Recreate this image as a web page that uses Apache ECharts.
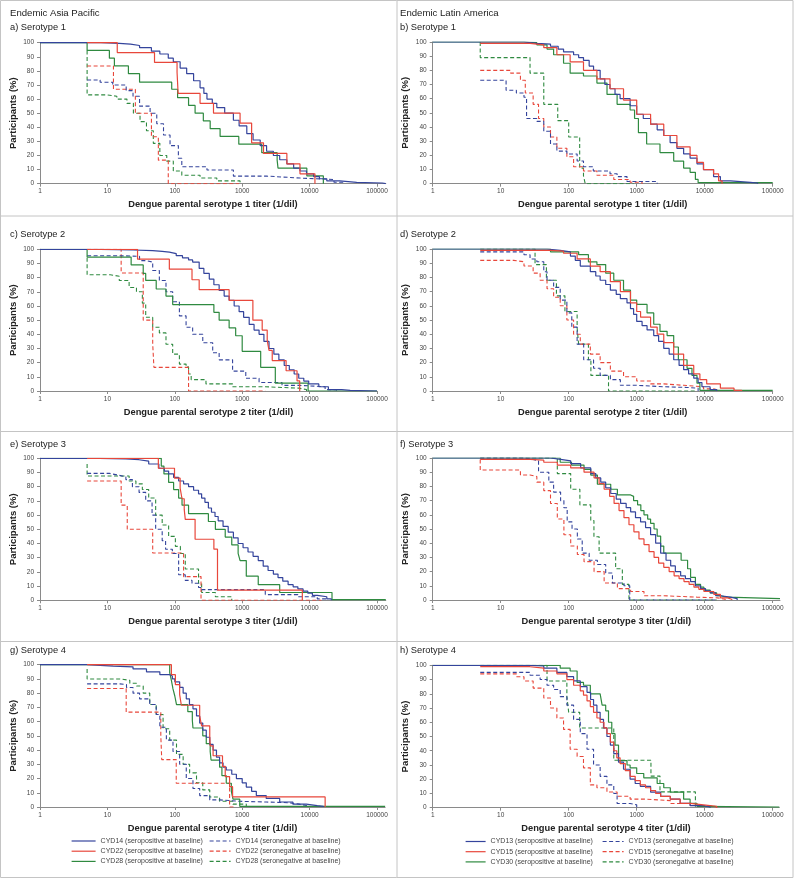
<!DOCTYPE html>
<html><head><meta charset="utf-8">
<script src="https://cdn.jsdelivr.net/npm/echarts@6/dist/echarts.min.js"></script>
<style>html,body{margin:0;padding:0;background:#fff}#c{width:794px;height:879px}</style>
</head><body><div id="c"></div>
<script>
// ---------- tick labels ----------
const X_TICKS = [1, 10, 100, 1000, 10000, 100000];
const Y_TICKS = [0, 10, 20, 30, 40, 50, 60, 70, 80, 90, 100];
const NAMES_AP = ['CYD14 (seropositive at baseline)', 'CYD22 (seropositive at baseline)', 'CYD28 (seropositive at baseline)',
                  'CYD14 (seronegative at baseline)', 'CYD22 (seronegative at baseline)', 'CYD28 (seronegative at baseline)'];
const NAMES_LA = ['CYD13 (seropositive at baseline)', 'CYD15 (seropositive at baseline)', 'CYD30 (seropositive at baseline)',
                  'CYD13 (seronegative at baseline)', 'CYD15 (seronegative at baseline)', 'CYD30 (seronegative at baseline)'];

// ---------- a) Asia Pacific, serotype 1 ----------
const A_POS_BLUE = [[1,100],[8,99.5],[15,99],[22,98],[30,96.5],[45,94],[60,92],[80,89],[95,86.5],[120,82],[150,78],[190,73],[237,68],[270,64],[300,60],[360,57],[420,54],[550,50],[740,45],[900,41],[1170,35.5],[1450,31],[1850,27],[2300,23],[2900,20],[3600,17],[4600,14],[5800,11],[7200,9],[9000,7],[11500,5],[14000,3.5],[18000,2],[28000,1],[50000,0.5],[120000,0],[135000,0]];
const A_POS_RED = [[5,100],[14,93],[50,86],[108,79],[112,64],[237,57],[375,50],[930,43],[1380,29],[2070,21.5],[4600,14],[7200,7],[12000,0]];
const A_POS_GREEN = [[1,100],[5,94.5],[10.7,89],[12.7,83.5],[20.5,78],[30,72],[90,67],[110,61],[160,55.5],[200,50],[265,44.5],[335,39],[470,33.5],[890,28],[1950,22],[3300,16.7],[3400,11],[9100,5.5],[16000,0]];
const A_NEG_BLUE = [[5,73.5],[7.8,72],[12,70],[19,66],[24,62],[30,55],[43,50],[54,42.5],[68,34.5],[85,27],[113,18],[127,12],[300,9.7],[740,5.4],[2300,4],[7200,3],[23000,1],[31000,0]];
const A_NEG_RED = [[5,83.5],[12.3,67],[26,50],[45,33.3],[57,16.7],[80,0],[900,0]];
const A_NEG_GREEN = [[5,94.5],[5,63],[9.8,62],[13.8,60],[19.5,57],[24.3,50],[30.5,44],[38,37.6],[48,28.6],[60,20],[76,16],[95,9],[127,6],[237,4],[420,2],[930,0]];

// ---------- b) Latin America, serotype 1 ----------
const B_POS_BLUE = [[1,100],[22,99],[34,98.5],[54,97],[70,95],[84,93],[118,91],[140,89],[165,87],[200,83],[232,80],[290,74],[340,70],[405,67],[480,63],[570,60],[800,55],[1000,49],[1250,46],[1600,42],[2000,38],[2500,34],[3100,29],[3900,25],[4900,21],[6100,18],[7700,14],[9600,10],[13500,5],[17000,2],[24000,1],[47000,0.5],[60000,0]];
const B_POS_RED = [[5,99],[27,98],[43,96],[67,91],[105,86],[165,80],[260,74],[405,67],[640,59],[1000,49],[1600,42],[2500,34],[3900,26],[6100,20],[7700,15],[9600,10],[13500,7],[16000,2],[18000,0]];
const B_POS_GREEN = [[1,100],[22,99.5],[34,98],[48,95],[60,91],[84,85],[105,78],[165,76],[260,71],[366,63],[515,56],[800,52],[930,46],[1060,36],[1400,28],[2200,22],[3500,16],[4900,11],[6100,8],[7300,3],[8000,0.7],[100000,0.7]];
const B_NEG_BLUE = [[5,73],[12,66],[17,64],[22,61],[24,46],[34,44],[43,37],[54,28],[67,23],[94,21],[133,16],[165,12],[230,9],[405,7],[515,5],[720,1.5],[1600,1.5],[2000,0]];
const B_NEG_RED = [[5,80],[14,78],[19.5,73],[23,64],[30,56],[36,46],[43,40],[54,33],[67,25],[94,19],[118,12],[165,9],[260,6],[460,3],[800,1],[1200,0]];
const B_NEG_GREEN = [[5,100],[5,89],[27,78],[43,56],[69,44.5],[100,33],[145,11],[165,5.5],[175,0],[900,0]];

// ---------- c) Asia Pacific, serotype 2 ----------
const C_POS_BLUE = [[1,100],[7.7,99.5],[24,99],[47,98.5],[65,98],[83,97],[105,95.5],[130,94],[160,92.5],[184,91],[230,86.5],[270,83],[325,79],[380,75],[455,71],[540,67],[640,64],[760,60],[900,56],[1050,52],[1270,47],[1500,43],[1780,40],[2100,35],[2500,30],[2950,26],[3500,22],[4200,18],[5000,15],[5900,12],[6900,9],[8200,7],[9700,5],[13700,3],[19000,1],[30000,0.5],[40000,0],[100000,0]];
const C_POS_RED = [[5,100],[28,93],[83,86],[180,78.5],[230,71.5],[640,64],[1440,50],[1980,43],[2350,35.7],[2500,28.6],[2790,21.5],[4480,14.3],[6510,7.1],[7130,0]];
const C_POS_GREEN = [[1,100],[5,94.5],[22.5,89],[34,83],[37,78],[53,72],[74,67],[93,61],[380,55.5],[455,50],[640,44.5],[800,39],[1000,28],[1880,16.7],[3100,5.5],[9500,0],[100000,0]];
const C_NEG_BLUE = [[5,95.5],[15,95],[30,92],[37,91],[47,85],[59,78],[74,70],[93,63],[117,53],[147,45],[184,40],[260,34],[365,27],[455,22],[720,14],[1130,9],[1780,6],[3900,4],[6900,3],[17000,1],[25000,0]];
const C_NEG_RED = [[5,100],[16,83.3],[34,50],[47,33.3],[49,16.7],[160,0],[2200,0]];
const C_NEG_GREEN = [[5,94],[5,82],[11,81],[15,78],[21,73],[27,70],[33,62],[37,52],[47,45],[59,41],[74,33],[93,26],[117,19],[147,17],[160,12],[175,8],[290,5],[720,3],[2200,2],[6900,1],[9000,0]];

// ---------- d) Latin America, serotype 2 ----------
const D_POS_BLUE = [[1,100],[48,99],[75,98],[106,95],[125,92],[148,88],[208,84],[250,81],[290,78],[350,75],[410,71],[500,68],[575,65],[720,62],[810,58],[900,54],[1000,49],[1200,46],[1420,43],[1780,39],[2100,35],[2500,30],[3000,26],[3500,22],[4200,18],[4900,15],[5800,12],[6900,9],[8000,6],[9100,3],[12000,1],[15000,0]];
const D_POS_RED = [[5,99],[54,98.5],[84,97],[133,93],[208,88],[290,84],[410,77],[575,70],[810,62],[1000,56],[1140,52],[1600,45],[2000,40],[2500,34],[3500,26],[4900,18],[6900,12],[8500,8],[10700,5],[17000,2],[27000,0.5],[35000,0]];
const D_POS_GREEN = [[1,100],[54,98],[140,96],[195,91],[260,89],[350,83],[460,78],[640,71],[810,64],[1000,61],[1420,55],[1780,47],[2200,42],[2800,39],[3500,31],[4100,22],[5500,16],[6500,11],[7700,5.5],[8500,0.5],[100000,0.5]];
const D_NEG_BLUE = [[5,98],[22,96],[27,93],[34,91],[43,84],[48,78],[60,73],[75,64],[94,55],[111,45],[133,33],[166,22],[232,16],[290,11],[410,8],[575,4],[1000,3],[2500,2.5],[5500,2],[8000,0]];
const D_NEG_RED = [[5,92],[15.5,91],[22,88],[30,83],[38,78],[48,72],[60,66],[75,60],[94,50],[118,40],[148,33],[208,26],[290,20],[410,14],[640,10],[1000,7],[1600,5],[2500,4],[4900,3],[9600,1.5],[13500,0.5],[16000,0]];
const D_NEG_GREEN = [[5,100],[32,89],[47,78],[66,67],[88,56],[133,44.5],[140,33],[195,22],[212,11],[385,0],[7700,0]];

// ---------- e) Asia Pacific, serotype 3 ----------
const E_POS_BLUE = [[1,100],[7.6,99.5],[18.8,99],[29.5,98],[41,96],[58,93],[70,91],[81,89],[96,86.5],[114,84],[135,82],[160,80],[190,77.5],[225,75],[250,72],[280,69],[315,65],[350,62],[395,59],[440,56],[520,52],[620,48],[740,44],[870,40],[1030,37],[1220,34],[1450,31],[1730,28],[2050,24],[2420,21],[2900,18.5],[3400,16],[4000,13.5],[4800,11],[5700,9.5],[6700,8],[8000,6.5],[9400,5],[11000,3.5],[13000,2.5],[18000,1],[21000,0]];
const E_POS_RED = [[5,100],[57,93],[99,86],[120,79],[128,71.5],[138,64],[143,57],[200,43],[380,36],[430,7.1],[7800,0]];
const E_POS_GREEN = [[1,100],[63,94.5],[69,89],[81,83],[96,78],[114,72],[128,67],[160,61],[315,55.5],[400,50],[560,44.5],[700,39],[870,33],[930,28],[1150,17],[1730,11],[3600,5.5],[21500,0.5],[135000,0.5]];
const E_NEG_BLUE = [[5,89.4],[10.7,88],[15,87],[18.8,85],[23.5,80],[29.5,76],[37,70],[46,60],[52,50],[65,42],[73,36],[92,33],[114,18],[143,14],[180,12],[225,9],[250,7.5],[2200,4],[6700,2.5],[13000,1],[18000,0]];
const E_NEG_RED = [[5,84],[16,67],[19.7,50],[47,33.3],[135,16.7],[245,0],[15000,0]];
const E_NEG_GREEN = [[5,96],[5,87.5],[21,84],[26.5,82],[33,78],[41,72],[52,60],[65,53],[81,45],[102,38],[121,33],[143,22],[225,12],[250,5.5],[400,2.5],[700,0]];

// ---------- f) Latin America, serotype 3 ----------
const F_POS_BLUE = [[1,100],[54,99],[76,98],[107,96],[150,93],[211,89],[250,86],[296,83],[350,79],[415,75],[500,71],[580,68],[700,65],[815,62],[960,58],[1140,55],[1350,51],[1600,46],[1900,40],[2250,33],[2700,28],[3160,24],[3700,20],[4430,17],[5200,15],[6200,13],[7300,10],[8700,8],[10300,6.5],[12200,5],[14500,3],[17100,2],[24000,1],[30000,0]];
const F_POS_RED = [[5,99],[27,98.5],[43,97],[68,95],[107,93],[168,90],[236,86],[280,82],[332,78],[400,73],[465,68],[550,63],[650,58],[770,53],[910,48],[1080,43],[1280,39],[1520,34],[1800,30],[2100,26],[2500,23],[3000,20],[3550,17],[4200,15],[4960,13],[5900,11],[6950,9],[8200,7.5],[9740,6],[13600,4],[17000,1.5],[21600,0.5],[25000,0]];
const F_POS_GREEN = [[1,100],[75,97],[110,95],[168,92],[211,88],[264,81.5],[415,78],[520,74],[815,73],[900,70],[1030,67],[1150,63],[1280,60],[1450,57],[1600,54],[1800,50],[2000,45],[2250,38],[2500,33],[4500,28],[5600,22],[6200,16],[7300,11],[8700,9],[9740,7],[12000,5],[15000,3],[17000,2],[21000,1],[128000,1]];
const F_NEG_BLUE = [[5,100],[22,99],[30,98],[36,90],[51,83],[60,76],[76,70],[85,65],[95,55],[112,50],[134,43],[158,33],[200,28],[264,25],[350,19],[440,12],[650,10],[790,0],[15000,0]];
const F_NEG_RED = [[5,99],[5,91.5],[19.5,88],[27,87],[34,83],[43,77],[54,68],[68,57],[85,46],[107,38],[134,32],[168,27],[236,20],[332,12],[520,8],[815,6],[1280,3],[2500,2],[7700,1.5],[15500,0.5],[20000,0]];
const F_NEG_GREEN = [[5,100],[68,89],[107,78],[146,67],[211,56],[235,44.5],[280,33],[490,22],[615,11],[770,0],[15000,0]];

// ---------- g) Asia Pacific, serotype 4 ----------
const G_POS_BLUE = [[1,100],[5,99],[12.2,98.5],[24,97],[38,95],[60,93],[84,92],[92,90],[100,88],[118,84],[133,80],[148,76],[165,72],[186,69],[210,64],[234,59],[260,54],[293,49],[330,44],[370,40],[415,35],[462,31],[520,28],[580,26],[700,23],[820,20],[1000,17],[1150,14],[1380,11],[1620,8],[2270,6],[3600,3.5],[5650,2],[8900,1],[13000,0.5],[16000,0]];
const G_POS_RED = [[5,100],[89,93],[102,86],[118,79],[125,71.5],[234,64],[250,57],[330,50],[335,43],[370,36],[510,28.6],[560,21.4],[650,14.3],[720,7.1],[17000,0]];
const G_POS_GREEN = [[1,100],[84,94.5],[89,89],[94,83],[100,78],[106,72],[156,67],[182,61],[186,55.5],[260,50],[293,44.5],[335,39],[345,33],[462,28],[500,22],[580,16.7],[690,11],[730,5.5],[920,0.5],[132000,0.5]];
const G_NEG_BLUE = [[5,86.5],[15.3,86],[19.2,84],[24,80],[30,76],[42.5,72],[53,65],[60,56],[75,47],[94,39],[118,30],[148,20],[186,13],[234,8],[330,5],[462,4],[920,3.5],[2270,3],[5000,2],[7000,1],[9000,0]];
const G_NEG_RED = [[5,83.3],[19,66.7],[62,50],[64,33.3],[105,16.7],[650,0],[800,0]];
const G_NEG_GREEN = [[5,97],[5,90],[15.3,89],[21.5,87],[27,85],[34,80],[42.5,72],[53,65],[67,55],[84,47],[106,37],[133,30],[166,24],[210,17],[260,12],[330,7],[462,4],[730,2],[1150,0]];

// ---------- h) Latin America, serotype 4 ----------
const H_POS_BLUE = [[1,100],[27,99.5],[43,98],[67,95],[94,92],[118,89],[148,85],[186,81],[210,76],[232,72],[260,67],[290,62],[325,56],[365,50],[410,44],[460,38],[540,32],[640,27],[800,20],[950,17],[1130,15],[1600,11],[2250,8],[3120,6],[4360,3],[6100,1.5],[9600,0.5],[12000,0]];
const H_POS_RED = [[5,99],[27,98],[43,96],[67,94],[94,90],[118,86],[148,82],[165,79],[186,75],[208,71],[232,67],[260,63],[290,60],[330,56],[365,52],[410,46],[460,40],[510,35],[570,31],[680,26],[800,22],[950,19],[1130,16],[1350,14],[1600,12],[1900,10],[2250,8],[3120,6],[4360,3],[6100,2],[9600,1],[15000,0]];
const H_POS_GREEN = [[1,100],[75,98],[105,96],[133,88],[165,86],[208,80],[290,80],[310,72],[350,68],[385,60],[430,52],[480,44],[540,33],[720,30],[800,28],[1000,24],[1270,21],[2000,17],[2500,14],[3120,11],[4900,6],[6100,3],[7700,1],[9000,0.5],[125000,0.5]];
const H_NEG_BLUE = [[5,95],[27,93],[38,90],[48,86],[60,83],[75,78],[94,72],[118,62],[148,52],[186,41],[232,30],[290,22],[365,16],[460,10],[515,3],[800,2],[1000,0]];
const H_NEG_RED = [[5,94],[17,92],[22,89],[30,84],[43,77],[54,70],[67,63],[84,55],[105,41],[133,36],[165,28],[208,16],[260,14],[365,11],[515,8],[800,6],[1400,5],[3120,3],[6100,1.5],[12000,0.5],[15000,0]];
const H_NEG_GREEN = [[5,100],[48,89],[94,78],[100,67],[145,56],[460,33.3],[1620,22.2],[2200,11.1],[7300,0]];

// ---------- styling / layout ----------
const COLORS = ['#34449c', '#e8473b', '#2f8a40'];
const FONT = 'Liberation Sans, Arial, Helvetica, sans-serif';
const COL = [{x0: 40, dec: 67.4, tx: 10}, {x0: 432.7, dec: 68, tx: 400}];

const panels = [
  {col:0, top:42.7, bottom:183.7, max:135000, label:'a) Serotype 1', ty:27.3, st:1, names:NAMES_AP, data:[A_POS_BLUE,A_POS_RED,A_POS_GREEN,A_NEG_BLUE,A_NEG_RED,A_NEG_GREEN]},
  {col:1, top:42.0, bottom:183.7, max:100000, label:'b) Serotype 1', ty:27.3, st:1, names:NAMES_LA, data:[B_POS_BLUE,B_POS_RED,B_POS_GREEN,B_NEG_BLUE,B_NEG_RED,B_NEG_GREEN]},
  {col:0, top:249.3, bottom:391, max:100000, label:'c) Serotype 2', ty:234, st:2, names:NAMES_AP, data:[C_POS_BLUE,C_POS_RED,C_POS_GREEN,C_NEG_BLUE,C_NEG_RED,C_NEG_GREEN]},
  {col:1, top:249, bottom:391, max:100000, label:'d) Serotype 2', ty:234, st:2, names:NAMES_LA, data:[D_POS_BLUE,D_POS_RED,D_POS_GREEN,D_NEG_BLUE,D_NEG_RED,D_NEG_GREEN]},
  {col:0, top:458.3, bottom:600.3, max:135000, label:'e) Serotype 3', ty:444, st:3, names:NAMES_AP, data:[E_POS_BLUE,E_POS_RED,E_POS_GREEN,E_NEG_BLUE,E_NEG_RED,E_NEG_GREEN]},
  {col:1, top:458, bottom:600, max:128000, label:'f) Serotype 3', ty:444, st:3, names:NAMES_LA, data:[F_POS_BLUE,F_POS_RED,F_POS_GREEN,F_NEG_BLUE,F_NEG_RED,F_NEG_GREEN]},
  {col:0, top:664.7, bottom:807, max:132000, label:'g) Serotype 4', ty:650.7, st:4, names:NAMES_AP, data:[G_POS_BLUE,G_POS_RED,G_POS_GREEN,G_NEG_BLUE,G_NEG_RED,G_NEG_GREEN]},
  {col:1, top:665.3, bottom:807.7, max:125000, label:'h) Serotype 4', ty:650.7, st:4, names:NAMES_LA, data:[H_POS_BLUE,H_POS_RED,H_POS_GREEN,H_NEG_BLUE,H_NEG_RED,H_NEG_GREEN]}
];

const grids = [], xAxes = [], yAxes = [], series = [];
const graphics = [
  {type:'rect', shape:{x:0.5, y:0.5, width:792.5, height:877}, style:{fill:'none', stroke:'#c4c4c4', lineWidth:1}},
  {type:'line', shape:{x1:397, y1:0.5, x2:397, y2:877.5}, style:{stroke:'#c4c4c4', lineWidth:1}},
  {type:'line', shape:{x1:0.5, y1:216, x2:793, y2:216}, style:{stroke:'#c4c4c4', lineWidth:1}},
  {type:'line', shape:{x1:0.5, y1:431.5, x2:793, y2:431.5}, style:{stroke:'#c4c4c4', lineWidth:1}},
  {type:'line', shape:{x1:0.5, y1:641.5, x2:793, y2:641.5}, style:{stroke:'#c4c4c4', lineWidth:1}}
];
function txt(t, x, y, size, weight) {
  return {type:'text', x:x, y:y, style:{text:t, font:(weight||'normal') + ' ' + size + 'px ' + FONT, fill:'#222',
          textVerticalAlign:'middle', verticalAlign:'middle', textAlign:'left', align:'left'}};
}
graphics.push(txt('Endemic Asia Pacific', 10, 13.3, 9.6));
graphics.push(txt('Endemic Latin America', 400, 13.3, 9.6));

panels.forEach((p, i) => {
  const c = COL[p.col];
  grids.push({left:c.x0, top:p.top, width:c.dec * Math.log10(p.max), height:p.bottom - p.top, containLabel:false, outerBoundsMode:'none'});
  xAxes.push({
    type:'log', logBase:10, gridIndex:i, min:1, max:p.max,
    name:'Dengue parental serotype ' + p.st + ' titer (1/dil)', nameLocation:'middle', nameGap:16.5,
    nameTextStyle:{fontFamily:FONT, fontSize:9.3, fontWeight:'bold', color:'#222', verticalAlign:'top'},
    axisLine:{lineStyle:{color:'#8a8a8a', width:1}},
    axisTick:{show:true, length:3, lineStyle:{color:'#8a8a8a'}, customValues:X_TICKS},
    axisLabel:{fontFamily:FONT, fontSize:6.5, color:'#444', margin:4.5, customValues:X_TICKS,
               formatter:(v) => String(Math.round(v))},
    minorTick:{show:false}, splitLine:{show:false}
  });
  yAxes.push({
    type:'value', gridIndex:i, min:0, max:100, interval:10,
    name:'Participants (%)', nameLocation:'middle', nameGap:22,
    nameTextStyle:{fontFamily:FONT, fontSize:9.5, fontWeight:'bold', color:'#222'},
    axisLine:{show:true, lineStyle:{color:'#8a8a8a', width:1}},
    axisTick:{show:true, length:3, lineStyle:{color:'#8a8a8a'}},
    axisLabel:{fontFamily:FONT, fontSize:6.5, color:'#444', margin:6,
               customValues:Y_TICKS, formatter:(v) => String(v)},
    splitLine:{show:false}
  });
  graphics.push(txt(p.label, c.tx, p.ty, 9.3));
  // dashed first, then solid
  const order = [5, 4, 3, 2, 0, 1];
  order.forEach(k => {
    const dashed = k >= 3;
    series.push({
      type:'line', name:p.names[k], xAxisIndex:i, yAxisIndex:i, data:p.data[k],
      step:'end', symbol:'none', showSymbol:false, animation:false, clip:true,
      lineStyle:{color:COLORS[k % 3], width:dashed ? 1.1 : 1.2, type:dashed ? [4, 2.5] : 'solid'},
      itemStyle:{color:COLORS[k % 3]}, emphasis:{disabled:true}
    });
  });
});

function legend(names, left, top, w) {
  return {show:true, data:names, left:left, top:top, orient:'vertical', itemWidth:w, itemHeight:8, itemGap:3.2, padding:0,
          selectedMode:false, itemStyle:{opacity:0, borderWidth:0}, lineStyle:{width:1.2},
          textStyle:{fontFamily:FONT, fontSize:7, color:'#444'}};
}
const chart = echarts.init(document.getElementById('c'), null, {renderer:'canvas'});
chart.setOption({
  backgroundColor:'#fff', animation:false,
  grid:grids, xAxis:xAxes, yAxis:yAxes, series:series, graphic:graphics,
  legend:[
    legend(NAMES_AP.slice(0,3), 71, 837.5, 24),
    legend(NAMES_AP.slice(3), 209, 837.5, 21),
    legend(NAMES_LA.slice(0,3), 465, 838, 20),
    legend(NAMES_LA.slice(3), 602, 838, 21)
  ]
});
</script></body></html>
